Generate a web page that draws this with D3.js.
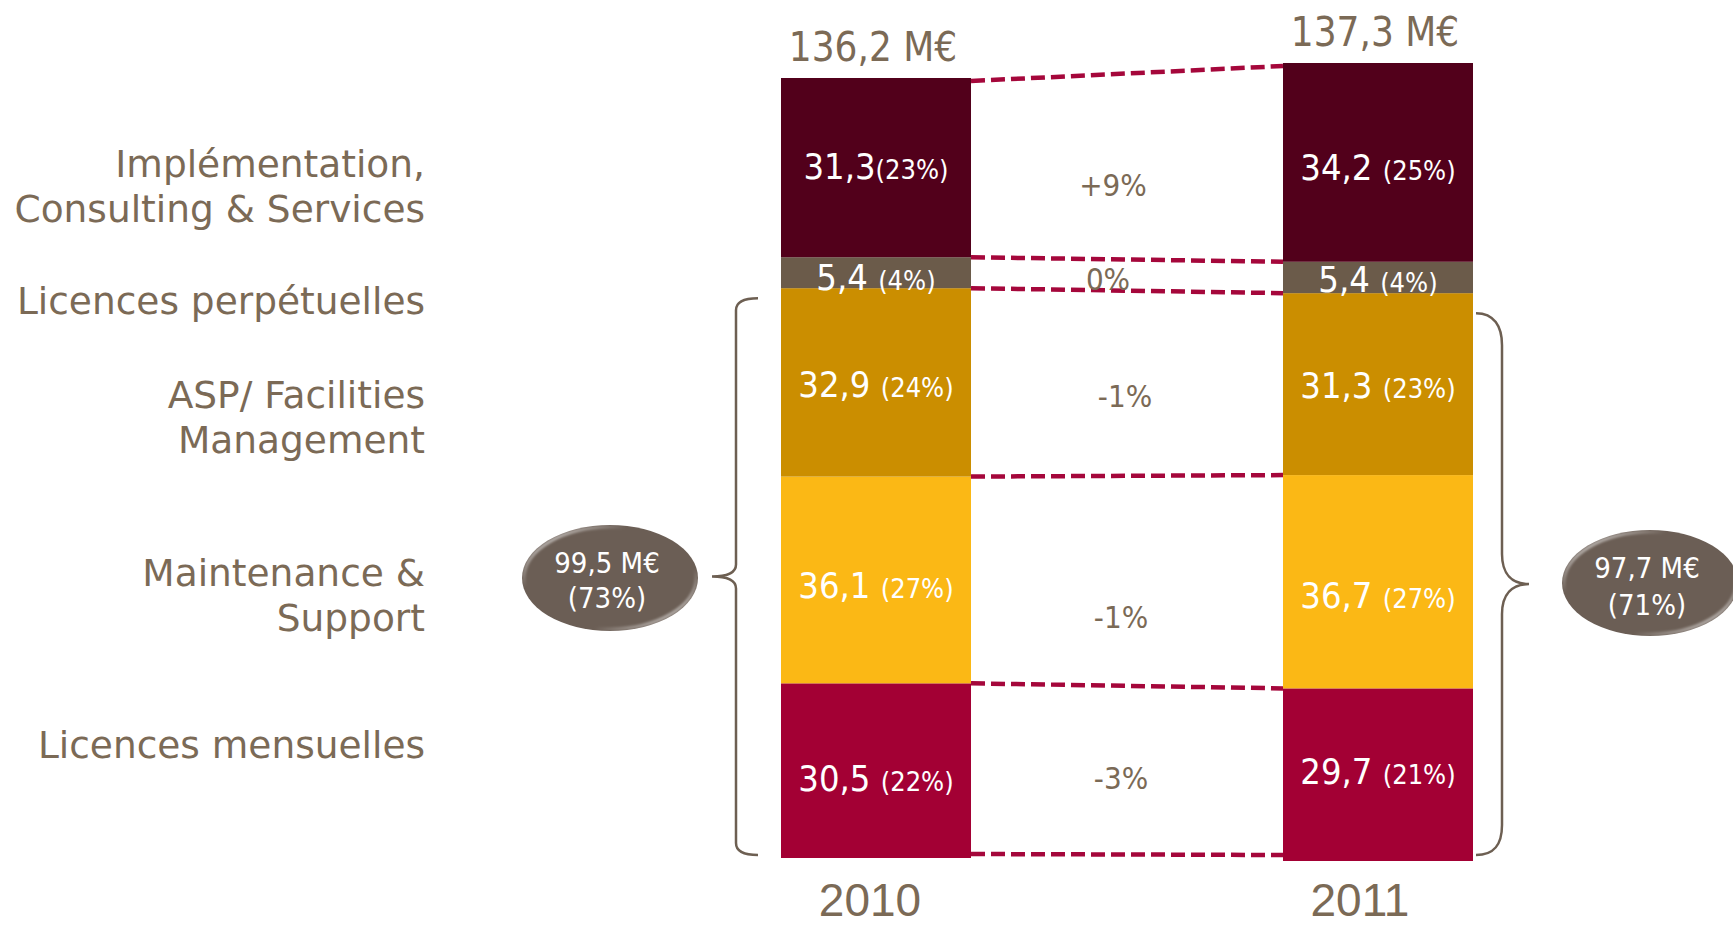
<!DOCTYPE html>
<html>
<head>
<meta charset="utf-8">
<script src="https://cdn.jsdelivr.net/npm/d3@7"></script>
<style>
  html, body { margin: 0; padding: 0; background: #fff; }
  svg { display: block; }
  .cond { font-family: "DejaVu Sans Condensed", "DejaVu Sans", sans-serif; font-stretch: condensed; }
  .wide { font-family: "DejaVu Sans", sans-serif; }
</style>
</head>
<body>
<div id="chart"></div>
<script>
// data
const years = ["2010", "2011"];
const categories = ["Implémentation, Consulting & Services", "Licences perpétuelles", "ASP/ Facilities Management", "Maintenance & Support", "Licences mensuelles"];
const categoryLines = [["Implémentation,", "Consulting & Services"], ["Licences perpétuelles"], ["ASP/ Facilities", "Management"], ["Maintenance &", "Support"], ["Licences mensuelles"]];
const values2010 = [31.3, 5.4, 32.9, 36.1, 30.5];
const values2011 = [34.2, 5.4, 31.3, 36.7, 29.7];
const shares2010 = [23, 4, 24, 27, 22];
const shares2011 = [25, 4, 23, 27, 21];
const totals = [136.2, 137.3];
const changes = ["+9%", "0%", "-1%", "-1%", "-3%"];
const recurringValues = [99.5, 97.7];
const recurringShares = [73, 71];

const colors = ["#52001b", "#6b5b4a", "#cb8e00", "#fbb815", "#a30034"];
const textCol = "#7b6a56";
const dashCol = "#a5073b";
const braceCol = "#6d5f52";
const pillCol = "#6b5e55";

// layout
const W = 1733, H = 925;
const barTop = [78, 63], barBottom = [858, 861];
const labelRight = 425, labelBase = [177, 314, 408, 586, 758], lineGap = 45;
const valueDy = [[11, 17, 15, 18, 20], [18, 15, 14, 26, 9]];
const changeDx = [-14, -19, -2, -6, -6], changeDy = [31, 15, 24, 47, 16];
const yearDx = [-6, -18];
const pillX = [610, 1650], pillY = [578, 583];

const svg = d3.select("#chart").append("svg")
  .attr("width", W).attr("height", H)
  .attr("viewBox", `0 0 ${W} ${H}`);

const fr = d3.formatLocale({decimal: ",", thousands: " ", grouping: [3], currency: ["", ""]});
const fmt = fr.format(".1f");

const table = years.map((yr, i) => {
  const row = {year: yr};
  const vals = i === 0 ? values2010 : values2011;
  categories.forEach((c, j) => row[c] = vals[j]);
  return row;
});
const series = d3.stack().keys(categories.slice().reverse())(table);

const x = d3.scaleBand().domain(years).range([781, 1473]).paddingInner(0.6215);
const ys = years.map((yr, i) => d3.scaleLinear().domain([0, totals[i]]).range([barBottom[i], barTop[i]]));

// defs for the pills
const defs = svg.append("defs");
const grad = defs.append("linearGradient").attr("id", "shine")
  .attr("x1", "0").attr("y1", "0").attr("x2", "1").attr("y2", "1");
grad.append("stop").attr("offset", "0%").attr("stop-color", "#fff").attr("stop-opacity", 0.9);
grad.append("stop").attr("offset", "30%").attr("stop-color", "#fff").attr("stop-opacity", 0);
grad.append("stop").attr("offset", "70%").attr("stop-color", "#fff").attr("stop-opacity", 0);
grad.append("stop").attr("offset", "100%").attr("stop-color", "#fff").attr("stop-opacity", 0.85);
defs.append("filter").attr("id", "soft").append("feGaussianBlur").attr("stdDeviation", 1.2);

// bars
series.forEach(s => {
  const j = categories.indexOf(s.key);
  svg.append("g").selectAll("rect")
    .data(s)
    .join("rect")
    .attr("x", d => x(d.data.year))
    .attr("width", x.bandwidth())
    .attr("y", (d, i) => ys[i](d[1]))
    .attr("height", (d, i) => ys[i](d[0]) - ys[i](d[1]))
    .attr("fill", colors[j]);
});

// dashed connectors
const levels = d3.range(categories.length + 1);
const cum = years.map((yr, i) => [0, ...series.map(s => s[i][1])]);
svg.append("g").selectAll("line")
  .data(levels)
  .join("line")
  .attr("x1", x("2010") + x.bandwidth())
  .attr("x2", x("2011"))
  .attr("y1", k => ys[0](cum[0][k]) + (k === 0 ? -4 : k === levels.length - 1 ? 3 : 0))
  .attr("y2", k => ys[1](cum[1][k]) + (k === 0 ? -6 : k === levels.length - 1 ? 3 : 0))
  .attr("stroke", dashCol)
  .attr("stroke-width", 4.5)
  .attr("stroke-dasharray", "14 6");

// value labels inside bars
years.forEach((yr, i) => {
  const vals = i === 0 ? values2010 : values2011;
  const shares = i === 0 ? shares2010 : shares2011;
  categories.forEach((c, j) => {
    const s = series.find(q => q.key === c)[i];
    const cy = (ys[i](s[0]) + ys[i](s[1])) / 2 + valueDy[i][j];
    const t = svg.append("text").attr("class", "cond")
      .attr("x", x(yr) + x.bandwidth() / 2)
      .attr("y", cy)
      .attr("text-anchor", "middle")
      .attr("fill", "#fff");
    t.append("tspan").attr("font-size", 36).text(fmt(vals[j]) + (i === 0 && j === 0 ? "" : " "));
    t.append("tspan").attr("font-size", 27).text(`(${shares[j]}%)`);
  });
});

// totals above bars
svg.append("g").selectAll("text")
  .data(years)
  .join("text")
  .attr("class", "cond")
  .attr("x", d => x(d) + x.bandwidth() / 2 - 3)
  .attr("y", (d, i) => ys[i](totals[i]) - 17)
  .attr("text-anchor", "middle")
  .attr("font-size", 40)
  .attr("fill", textCol)
  .text((d, i) => fmt(totals[i]) + " M€");

// year labels
svg.append("g").selectAll("text")
  .data(years)
  .join("text")
  .attr("x", (d, i) => x(d) + x.bandwidth() / 2 + yearDx[i])
  .attr("y", 916)
  .attr("text-anchor", "middle")
  .attr("font-family", "'Liberation Sans', Arial, sans-serif")
  .attr("font-size", 46)
  .attr("fill", textCol)
  .text(d => d);

// change labels between bars
const gapMid = (x("2010") + x.bandwidth() + x("2011")) / 2;
svg.append("g").selectAll("text")
  .data(changes)
  .join("text")
  .attr("class", "cond")
  .attr("x", (d, j) => gapMid + changeDx[j])
  .attr("y", (d, j) => {
    const c = categories[j];
    const s0 = series.find(q => q.key === c)[0], s1 = series.find(q => q.key === c)[1];
    return ((ys[0](s0[0]) + ys[0](s0[1])) / 2 + (ys[1](s1[0]) + ys[1](s1[1])) / 2) / 2 + changeDy[j];
  })
  .attr("text-anchor", "middle")
  .attr("font-size", 31)
  .attr("fill", textCol)
  .text(d => d);

// category labels on the left
const cat = svg.append("g").attr("class", "wide")
  .attr("font-size", 37.5).attr("fill", textCol).attr("text-anchor", "end");
categoryLines.forEach((lines, j) => {
  lines.forEach((ln, k) => {
    cat.append("text").attr("x", labelRight).attr("y", labelBase[j] + k * lineGap).text(ln);
  });
});

// braces around the recurring part
const leftTop = ys[0](recurringValues[0]) + 10, leftBot = ys[0](0) - 3;
const lx = x("2010") - 45, lm = (leftTop + leftBot) / 2;
svg.append("path")
  .attr("d", `M${lx + 22},${leftTop} Q${lx},${leftTop} ${lx},${leftTop + 12} L${lx},${lm - 12} Q${lx},${lm} ${lx - 24},${lm} Q${lx},${lm} ${lx},${lm + 12} L${lx},${leftBot - 12} Q${lx},${leftBot} ${lx + 22},${leftBot}`)
  .attr("fill", "none").attr("stroke", braceCol).attr("stroke-width", 2.5);

const rightTop = ys[1](recurringValues[1]) + 20, rightBot = ys[1](0) - 6;
const rx0 = x("2011") + x.bandwidth() + 3, rx = rx0 + 26, rm = (rightTop + rightBot) / 2;
svg.append("path")
  .attr("d", `M${rx0},${rightTop} C${rx0 + 18},${rightTop} ${rx},${rightTop + 13} ${rx},${rightTop + 32} L${rx},${rm - 30} C${rx},${rm - 10} ${rx + 10},${rm} ${rx + 27},${rm} C${rx + 10},${rm} ${rx},${rm + 10} ${rx},${rm + 30} L${rx},${rightBot - 30} C${rx},${rightBot - 10} ${rx0 + 18},${rightBot} ${rx0},${rightBot}`)
  .attr("fill", "none").attr("stroke", braceCol).attr("stroke-width", 2.5);

// pills with recurring totals
const pills = svg.append("g").selectAll("g")
  .data(years)
  .join("g")
  .attr("transform", (d, i) => `translate(${pillX[i]},${pillY[i]})`);
pills.append("ellipse").attr("rx", 88).attr("ry", 53).attr("fill", pillCol);
pills.append("ellipse").attr("rx", 86).attr("ry", 51)
  .attr("fill", "none").attr("stroke", "url(#shine)").attr("stroke-width", 3.5)
  .attr("filter", "url(#soft)");
pills.append("text").attr("class", "cond")
  .attr("x", -3).attr("y", -5)
  .attr("text-anchor", "middle").attr("font-size", 29).attr("fill", "#fff")
  .text((d, i) => fmt(recurringValues[i]) + " M€");
pills.append("text").attr("class", "cond")
  .attr("x", -3).attr("y", (d, i) => i === 0 ? 30 : 32)
  .attr("text-anchor", "middle").attr("font-size", 29).attr("fill", "#fff")
  .text((d, i) => `(${recurringShares[i]}%)`);
</script>
</body>
</html>
